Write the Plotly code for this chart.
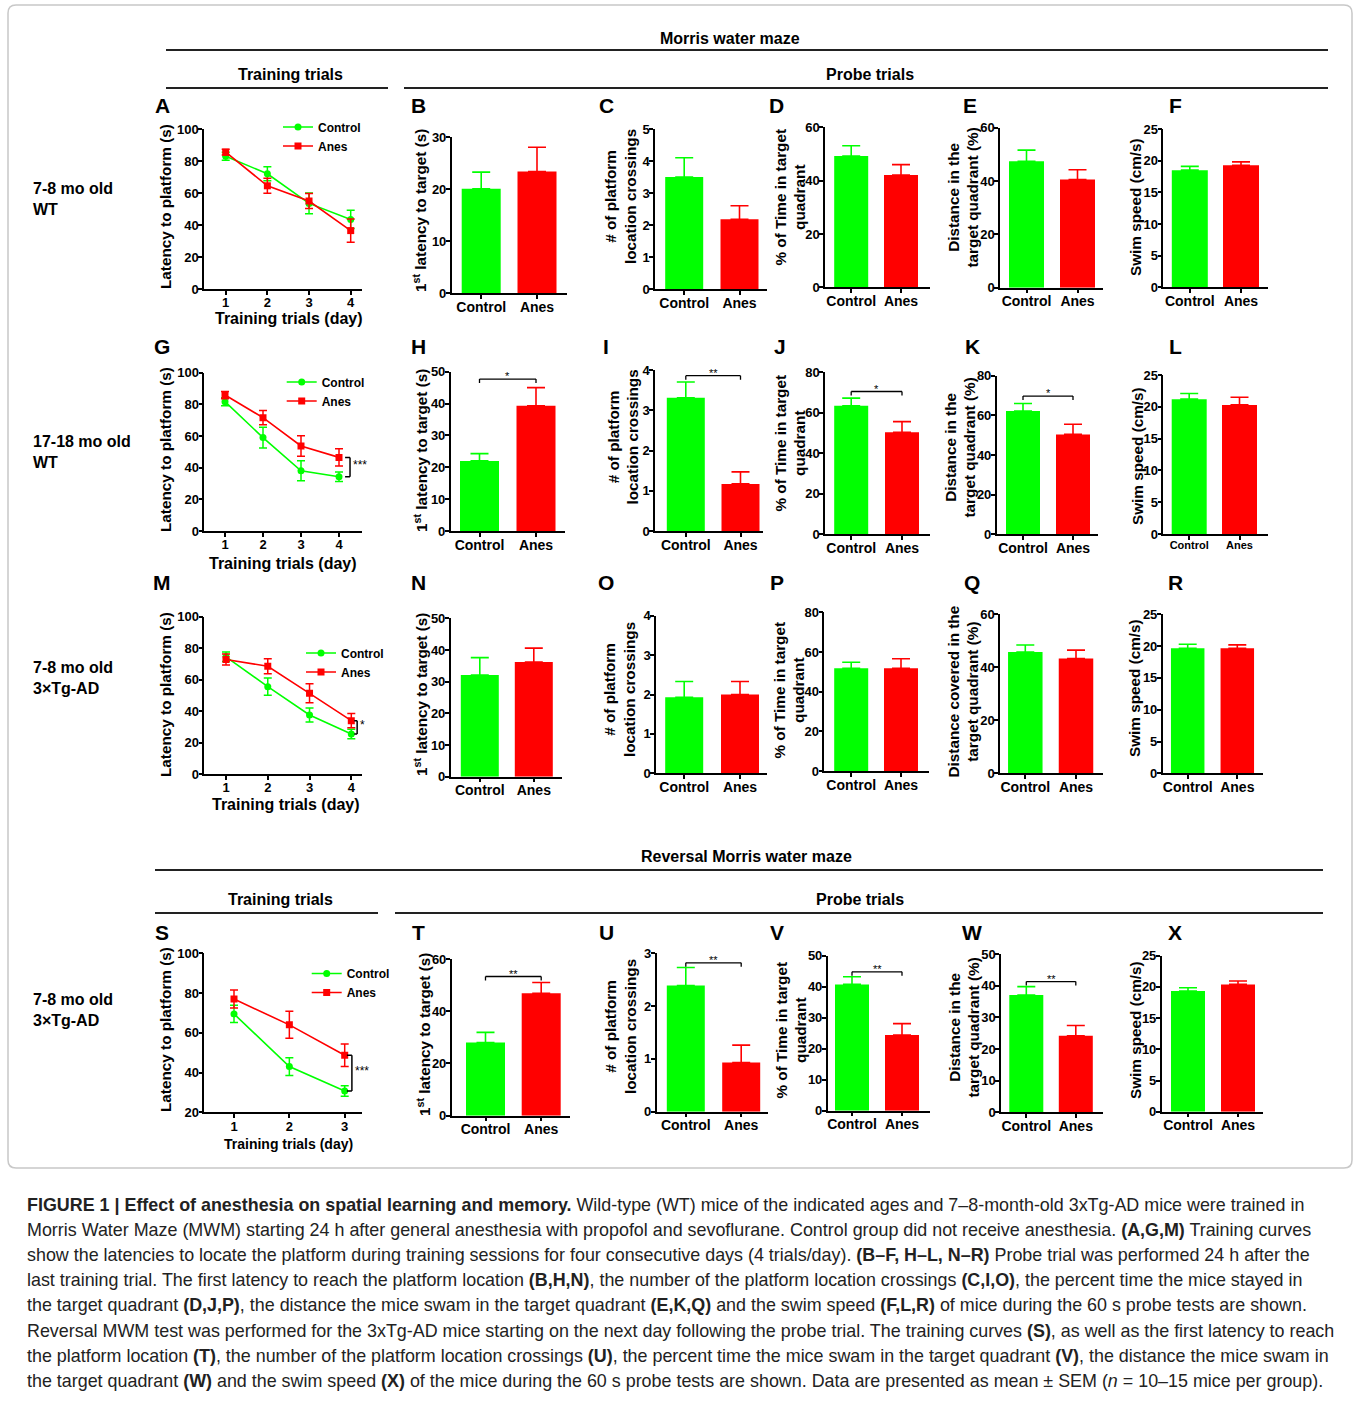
import plotly.graph_objects as go

W, H = 1354, 1401
GREEN = "#00FF00"
RED = "#FF0000"
FONT = "Liberation Sans, Arial, sans-serif"

# ---------------- data ----------------
groups = ["Control", "Anes"]
days_4 = [1, 2, 3, 4]
days_3 = [1, 2, 3]

# Training curves (latency to platform, s)
A_control = [83, 72, 53.5, 43.5]
A_control_sem = [2.5, 4.4, 6.5, 5.7]
A_anes = [85.5, 64.5, 55, 36.5]
A_anes_sem = [1.8, 4.7, 4.7, 7.3]

G_control = [81.7, 59, 38, 34.3]
G_control_sem = [2.5, 6.5, 6.3, 3]
G_anes = [85.9, 71.6, 53.7, 46.5]
G_anes_sem = [2.3, 4.5, 6.5, 5.5]

M_control = [74.5, 55.5, 37.5, 25.4]
M_control_sem = [3, 5.5, 4.5, 3]
M_anes = [72.8, 68.5, 51.3, 33.9]
M_anes_sem = [3.5, 4.7, 6, 4.5]

S_control = [69.5, 43, 30.7]
S_control_sem = [4.3, 4.5, 2.6]
S_anes = [77, 64, 48.7]
S_anes_sem = [4.5, 6.8, 5.7]

# Probe trials: [Control, Anes] means and SEM
B_mean = [20.1, 23.4]; B_sem = [3.2, 4.7]
C_mean = [3.5, 2.18]; C_sem = [0.6, 0.42]
D_mean = [49.2, 42.1]; D_sem = [3.9, 3.9]
E_mean = [47.4, 40.6]; E_sem = [4.2, 3.65]
F_mean = [18.5, 19.26]; F_sem = [0.6, 0.55]

H_mean = [22.0, 39.3]; H_sem = [2.3, 5.7]
I_mean = [3.31, 1.17]; I_sem = [0.39, 0.30]
J_mean = [63.4, 50.3]; J_sem = [3.8, 5.3]
K_mean = [62.2, 50.4]; K_sem = [3.8, 5.1]
L_mean = [21.2, 20.3]; L_sem = [0.9, 1.2]

N_mean = [32.1, 36.2]; N_sem = [5.5, 4.4]
O_mean = [1.93, 2.0]; O_sem = [0.40, 0.33]
P_mean = [51.8, 51.8]; P_sem = [3.0, 4.8]
Q_mean = [45.8, 43.3]; Q_sem = [2.6, 3.2]
R_mean = [19.65, 19.65]; R_sem = [0.65, 0.55]

T_mean = [28.0, 46.9]; T_sem = [3.9, 4.1]
U_mean = [2.39, 0.93]; U_sem = [0.34, 0.33]
V_mean = [40.75, 24.4]; V_sem = [2.45, 3.7]
W_mean = [37.05, 24.2]; W_sem = [2.65, 3.2]
X_mean = [19.34, 20.4]; X_sem = [0.53, 0.54]

# significance marks
sig_H = ("*", 47.7); sig_I = ("**", 3.86); sig_J = ("*", 70.5); sig_K = ("*", 69.7)
sig_T = ("**", 53.3); sig_U = ("**", 2.82); sig_V = ("**", 44.8); sig_W = ("**", 41.3)
sig_G = "***"; sig_M = "*"; sig_S = "***"

TITLE_LAT = "Latency to platform (s)"
TITLE_FIRST = "1<sup>st</sup> latency to target (s)"
TITLE_CROSS = "# of platform<br>location crossings"
TITLE_TIME = "% of Time in target<br>quadrant"
TITLE_DIST = "Distance in the<br>target quadrant (%)"
TITLE_DIST2 = "Distance covered in the<br>target quadrant (%)"
TITLE_SPEED = "Swim speed (cm/s)"
XTITLE = "Training trials (day)"

# ---------------- layout specs (pixel geometry) ----------------
line_panels = [
    dict(key="A", x=days_4, c=A_control, cs=A_control_sem, a=A_anes, as_=A_anes_sem,
         ax=(204, 362, 129, 289), tpx=(225.7, 350.7), yr=(0, 100), dt=20,
         leg=(278, 112.5), sig=None, ttl=(165, 207), xt=(288.5, 319), xts=16, let=(162, 105)),
    dict(key="G", x=days_4, c=G_control, cs=G_control_sem, a=G_anes, as_=G_anes_sem,
         ax=(204.3, 362, 372.7, 531), tpx=(225, 339), yr=(0, 100), dt=20,
         leg=(281.7, 367.5), sig=(sig_G, 0.16, 0.29), ttl=(165, 450), xt=(283.3, 563), xts=16, let=(162, 347)),
    dict(key="M", x=days_4, c=M_control, cs=M_control_sem, a=M_anes, as_=M_anes_sem,
         ax=(204.3, 362, 616.7, 774), tpx=(226, 351.3), yr=(0, 100), dt=20,
         leg=(301, 638.5), sig=(sig_M, 0.07, 0.14), ttl=(165, 695), xt=(285.7, 804.5), xts=16, let=(162, 583)),
    dict(key="S", x=days_3, c=S_control, cs=S_control_sem, a=S_anes, as_=S_anes_sem,
         ax=(204.3, 362.3, 953.3, 1112.3), tpx=(234, 344.7), yr=(20, 100), dt=20,
         leg=(306.7, 959), sig=(sig_S, 0.04, 0.13), ttl=(165, 1030), xt=(288, 1144), xts=14, let=(162, 932)),
]

bar_panels = [
    dict(key="B", m=B_mean, s=B_sem, ax=(451.7, 566.7, 137.3, 293.3), cx=(481.2, 537), bw=39, yr=(0, 30), dt=10, sig=None, ttl=(420, 211), t=TITLE_FIRST, let=(418, 105)),
    dict(key="C", m=C_mean, s=C_sem, ax=(655, 766.7, 129, 289), cx=(684.2, 739.5), bw=38, yr=(0, 5), dt=1, sig=None, ttl=(620, 197), t=TITLE_CROSS, let=(606, 105)),
    dict(key="D", m=D_mean, s=D_sem, ax=(825, 930, 127.3, 287.3), cx=(851.2, 901), bw=34, yr=(0, 60), dt=20, sig=None, ttl=(789.5, 197), t=TITLE_TIME, let=(777, 105)),
    dict(key="E", m=E_mean, s=E_sem, ax=(1000, 1103, 127.7, 287.7), cx=(1026.5, 1077.5), bw=35, yr=(0, 60), dt=20, sig=None, ttl=(963.5, 198), t=TITLE_DIST, let=(970, 105)),
    dict(key="F", m=F_mean, s=F_sem, ax=(1163.3, 1268, 129, 287.3), cx=(1189.8, 1241), bw=36, yr=(0, 25), dt=5, sig=None, ttl=(1135, 207), t=TITLE_SPEED, let=(1175, 105)),
    dict(key="H", m=H_mean, s=H_sem, ax=(450.7, 565, 371.7, 531), cx=(479.5, 536), bw=39, yr=(0, 50), dt=10, sig=sig_H, ttl=(420, 451), t=TITLE_FIRST, let=(418, 347)),
    dict(key="I", m=I_mean, s=I_sem, ax=(655, 763.3, 370, 531), cx=(685.8, 740.5), bw=38, yr=(0, 4), dt=1, sig=sig_I, ttl=(622.5, 437), t=TITLE_CROSS, let=(606, 347)),
    dict(key="J", m=J_mean, s=J_sem, ax=(825, 930, 372.3, 534), cx=(851.2, 902), bw=34, yr=(0, 80), dt=20, sig=sig_J, ttl=(789.5, 443), t=TITLE_TIME, let=(780, 347)),
    dict(key="K", m=K_mean, s=K_sem, ax=(996.7, 1098, 375.7, 534.3), cx=(1023, 1073), bw=34, yr=(0, 80), dt=20, sig=sig_K, ttl=(959.5, 448), t=TITLE_DIST, let=(972, 347)),
    dict(key="L", m=L_mean, s=L_sem, ax=(1163.3, 1268, 375, 534), cx=(1189.2, 1239.5), bw=35, yr=(0, 25), dt=5, sig=None, ttl=(1137, 456), t=TITLE_SPEED, let=(1175, 347), xfs=11),
    dict(key="N", m=N_mean, s=N_sem, ax=(450.7, 561.7, 618.3, 776.7), cx=(479.8, 533.8), bw=38, yr=(0, 50), dt=10, sig=None, ttl=(420, 695), t=TITLE_FIRST, let=(418, 583)),
    dict(key="O", m=O_mean, s=O_sem, ax=(656, 766.7, 615.7, 773.3), cx=(684.2, 740), bw=38, yr=(0, 4), dt=1, sig=None, ttl=(620, 690), t=TITLE_CROSS, let=(606, 583)),
    dict(key="P", m=P_mean, s=P_sem, ax=(824.3, 929.3, 612.3, 771), cx=(851.2, 901), bw=34, yr=(0, 80), dt=20, sig=None, ttl=(789.5, 690), t=TITLE_TIME, let=(777, 583)),
    dict(key="Q", m=Q_mean, s=Q_sem, ax=(1000, 1103.3, 614.3, 773.3), cx=(1025.3, 1076), bw=34.5, yr=(0, 60), dt=20, sig=None, ttl=(962.5, 692), t=TITLE_DIST2, let=(972, 583)),
    dict(key="R", m=R_mean, s=R_sem, ax=(1162.7, 1263.3, 614.3, 773.3), cx=(1187.7, 1237.3), bw=33.5, yr=(0, 25), dt=5, sig=None, ttl=(1134, 688), t=TITLE_SPEED, let=(1175, 583)),
    dict(key="T", m=T_mean, s=T_sem, ax=(451.7, 570, 959, 1115.7), cx=(485.5, 541.2), bw=39, yr=(0, 60), dt=20, sig=sig_T, ttl=(423, 1035), t=TITLE_FIRST, let=(418, 932)),
    dict(key="U", m=U_mean, s=U_sem, ax=(656.7, 768.3, 953.3, 1111.7), cx=(685.8, 741.2), bw=38, yr=(0, 3), dt=1, sig=sig_U, ttl=(620, 1027), t=TITLE_CROSS, let=(606, 932)),
    dict(key="V", m=V_mean, s=V_sem, ax=(827.7, 930, 955.7, 1110.7), cx=(852, 902), bw=34, yr=(0, 50), dt=10, sig=sig_V, ttl=(790.5, 1030), t=TITLE_TIME, let=(777, 932)),
    dict(key="W", m=W_mean, s=W_sem, ax=(1001, 1103.3, 954, 1112.3), cx=(1026.3, 1075.8), bw=34, yr=(0, 50), dt=10, sig=sig_W, ttl=(963.5, 1028), t=TITLE_DIST, let=(972, 932)),
    dict(key="X", m=X_mean, s=X_sem, ax=(1161.7, 1262.7, 955.7, 1111.7), cx=(1188, 1238), bw=34, yr=(0, 25), dt=5, sig=None, ttl=(1135, 1030), t=TITLE_SPEED, let=(1175, 932)),
]

row_labels = [("7-8 mo old<br>WT", 199.5), ("17-18 mo old<br>WT", 451.5),
              ("7-8 mo old<br>3×Tg-AD", 677.5), ("7-8 mo old<br>3×Tg-AD", 1009.5)]

headers = [("Morris water maze", 730, 38, 166, 1328, 50),
           ("Training trials", 290, 75, 166, 388, 88),
           ("Probe trials", 870, 75, 404, 1328, 88),
           ("Reversal Morris water maze", 746, 856, 155, 1323, 870),
           ("Training trials", 280, 899, 155, 378, 913),
           ("Probe trials", 860, 899, 395, 1323, 913)]

caption_lines = [
    "<b>FIGURE 1 | Effect of anesthesia on spatial learning and memory.</b> Wild-type (WT) mice of the indicated ages and 7–8-month-old 3xTg-AD mice were trained in",
    "Morris Water Maze (MWM) starting 24 h after general anesthesia with propofol and sevoflurane. Control group did not receive anesthesia. <b>(A,G,M)</b> Training curves",
    "show the latencies to locate the platform during training sessions for four consecutive days (4 trials/day). <b>(B–F, H–L, N–R)</b> Probe trial was performed 24 h after the",
    "last training trial. The first latency to reach the platform location <b>(B,H,N)</b>, the number of the platform location crossings <b>(C,I,O)</b>, the percent time the mice stayed in",
    "the target quadrant <b>(D,J,P)</b>, the distance the mice swam in the target quadrant <b>(E,K,Q)</b> and the swim speed <b>(F,L,R)</b> of mice during the 60 s probe tests are shown.",
    "Reversal MWM test was performed for the 3xTg-AD mice starting on the next day following the probe trial. The training curves <b>(S)</b>, as well as the first latency to reach",
    "the platform location <b>(T)</b>, the number of the platform location crossings <b>(U)</b>, the percent time the mice swam in the target quadrant <b>(V)</b>, the distance the mice swam in",
    "the target quadrant <b>(W)</b> and the swim speed <b>(X)</b> of the mice during the 60 s probe tests are shown. Data are presented as mean ± SEM (<i>n</i> = 10–15 mice per group).",
]

# ---------------- build ----------------
def PX(x):
    return x / W

def PY(y):
    return 1 - y / H

fig = go.Figure()
lay = {}
shapes = []
ann = []

def bold(size, color="black"):
    return dict(family=FONT, size=size, color=color, weight="bold")

def axis_common():
    return dict(showline=True, linecolor="black", linewidth=1.5, ticks="outside",
                ticklen=4, tickwidth=1.5, tickcolor="black", showgrid=False,
                zeroline=False, fixedrange=True, automargin=False)

def text(t, x, y, size=15, angle=0, xanchor="center", yanchor="middle", align="center", weight=True, color="black"):
    f = bold(size, color) if weight else dict(family=FONT, size=size, color=color)
    ann.append(dict(text=t, x=PX(x), y=PY(y), xref="paper", yref="paper", showarrow=False,
                    textangle=angle, xanchor=xanchor, yanchor=yanchor, align=align, font=f))

TITLE_SIZE = 15.3
idx = 0
legend_names = ["legend", "legend2", "legend3", "legend4"]

for li, p in enumerate(line_panels):
    idx += 1
    sfx = "" if idx == 1 else str(idx)
    x0, x1, yt, yb = p["ax"]
    xs = p["x"]
    t0, t1 = p["tpx"]
    sc = (t1 - t0) / (xs[-1] - xs[0])
    xr = [xs[0] - (t0 - x0) / sc, xs[0] + (x1 - t0) / sc]
    xa = axis_common(); xa.update(domain=[PX(x0), PX(x1)], anchor="y" + sfx, range=xr,
                                  tickvals=xs, tickfont=bold(13), ticklabelstandoff=-3)
    ya = axis_common(); ya.update(domain=[PY(yb), PY(yt)], anchor="x" + sfx, range=list(p["yr"]),
                                  tick0=p["yr"][0], dtick=p["dt"], tickfont=bold(13), ticklabelstandoff=-3)
    lay["xaxis" + sfx] = xa
    lay["yaxis" + sfx] = ya
    lg = legend_names[li]
    for name, y, e, col, sym, size in [(groups[0], p["c"], p["cs"], GREEN, "circle", 7),
                                       (groups[1], p["a"], p["as_"], RED, "square", 7)]:
        fig.add_trace(go.Scatter(x=xs, y=y, name=name, mode="lines+markers",
                                 line=dict(color=col, width=1.6),
                                 marker=dict(symbol=sym, size=size, color=col),
                                 error_y=dict(type="data", array=e, color=col, thickness=1.5, width=4),
                                 xaxis="x" + sfx, yaxis="y" + sfx, legend=lg, showlegend=True))
    lay[lg] = dict(x=PX(p["leg"][0]), y=PY(p["leg"][1]), xanchor="left", yanchor="top",
                   font=bold(12), bgcolor="rgba(0,0,0,0)", itemwidth=30, tracegroupgap=0,
                   borderwidth=0)
    if p["sig"]:
        stxt, off0, off1 = p["sig"]
        xl = xs[-1] + off0
        xr_ = xs[-1] + off1
        ya_, yc_ = p["a"][-1], p["c"][-1]
        for (a0, b0, a1, b1) in [(xl, ya_, xr_, ya_), (xr_, ya_, xr_, yc_), (xl, yc_, xr_, yc_)]:
            shapes.append(dict(type="line", xref="x" + sfx, yref="y" + sfx, x0=a0, y0=b0, x1=a1, y1=b1,
                               line=dict(color="black", width=1.5)))
        ann.append(dict(text=stxt, x=xr_, y=(ya_ + yc_) / 2, xref="x" + sfx, yref="y" + sfx,
                        showarrow=False, xanchor="left", yanchor="middle", xshift=1, yshift=2,
                        font=dict(family=FONT, size=12, color="black")))
    text(TITLE_LAT, p["ttl"][0], p["ttl"][1], size=TITLE_SIZE, angle=-90)
    text(XTITLE, p["xt"][0], p["xt"][1], size=p["xts"])
    text(p["key"], p["let"][0], p["let"][1], size=21)

for p in bar_panels:
    idx += 1
    sfx = str(idx)
    x0, x1, yt, yb = p["ax"]
    c0, c1 = p["cx"]
    sc = c1 - c0
    xr = [(x0 - c0) / sc, (x1 - c0) / sc]
    pos = list(range(len(groups)))
    xa = axis_common(); xa.update(domain=[PX(x0), PX(x1)], anchor="y" + sfx, range=xr,
                                  tickvals=pos, ticktext=groups, tickfont=bold(p.get("xfs", 14)),
                                  ticklabelstandoff=-4)
    ya = axis_common(); ya.update(domain=[PY(yb), PY(yt)], anchor="x" + sfx, range=list(p["yr"]),
                                  tick0=0, dtick=p["dt"], tickfont=bold(13), ticklabelstandoff=-3)
    lay["xaxis" + sfx] = xa
    lay["yaxis" + sfx] = ya
    for i, col in enumerate([GREEN, RED]):
        fig.add_trace(go.Bar(x=[pos[i]], y=[p["m"][i]], width=p["bw"] / sc, name=groups[i],
                             marker=dict(color=col, line=dict(color=col, width=0)),
                             error_y=dict(type="data", symmetric=False, array=[p["s"][i]], arrayminus=[0],
                                          color=col, thickness=1.6, width=9),
                             xaxis="x" + sfx, yaxis="y" + sfx, showlegend=False))
    if p["sig"]:
        stxt, sy = p["sig"]
        drop = 4 * (p["yr"][1] - p["yr"][0]) / (yb - yt)
        for (a0, b0, a1, b1) in [(0, sy - drop, 0, sy), (0, sy, 1, sy), (1, sy, 1, sy - drop)]:
            shapes.append(dict(type="line", xref="x" + sfx, yref="y" + sfx, x0=a0, y0=b0, x1=a1, y1=b1,
                               line=dict(color="black", width=1.3)))
        ann.append(dict(text=stxt, x=0.5, y=sy, xref="x" + sfx, yref="y" + sfx, showarrow=False,
                        xanchor="center", yanchor="middle", yshift=3,
                        font=dict(family=FONT, size=11, color="black")))
    text(p["t"], p["ttl"][0], p["ttl"][1], size=TITLE_SIZE, angle=-90)
    text(p["key"], p["let"][0], p["let"][1], size=21)

for t, y in row_labels:
    text(t, 30.5, y, size=16, xanchor="left", align="left")

for t, cx, cy, lx0, lx1, ly in headers:
    text(t, cx, cy, size=16)
    shapes.append(dict(type="line", xref="paper", yref="paper", x0=PX(lx0), x1=PX(lx1),
                       y0=PY(ly), y1=PY(ly), line=dict(color="#222222", width=2)))

# rounded frame
bx0, by0, bx1, by1, r = 8, 5, 1352, 1168, 8
path = (f"M{PX(bx0 + r)},{PY(by0)} L{PX(bx1 - r)},{PY(by0)} Q{PX(bx1)},{PY(by0)} {PX(bx1)},{PY(by0 + r)} "
        f"L{PX(bx1)},{PY(by1 - r)} Q{PX(bx1)},{PY(by1)} {PX(bx1 - r)},{PY(by1)} "
        f"L{PX(bx0 + r)},{PY(by1)} Q{PX(bx0)},{PY(by1)} {PX(bx0)},{PY(by1 - r)} "
        f"L{PX(bx0)},{PY(by0 + r)} Q{PX(bx0)},{PY(by0)} {PX(bx0 + r)},{PY(by0)} Z")
shapes.append(dict(type="path", xref="paper", yref="paper", path=path,
                   line=dict(color="#c8c8c8", width=1.5)))

for i, line in enumerate(caption_lines):
    ann.append(dict(text=line, x=PX(25), y=PY(1205 + i * 25.1), xref="paper", yref="paper",
                    showarrow=False, xanchor="left", yanchor="middle", align="left",
                    font=dict(family=FONT, size=17.9, color="#222222")))

fig.update_layout(width=W, height=H, margin=dict(l=0, r=0, t=0, b=0, pad=0, autoexpand=False),
                  template="none",
                  paper_bgcolor="white", plot_bgcolor="white", barmode="overlay",
                  font=dict(family=FONT, color="black"),
                  shapes=shapes, annotations=ann, **lay)
fig.write_html("out.html", include_plotlyjs=True, config={"displayModeBar": False},
               post_script="document.body.style.margin='0px';")
